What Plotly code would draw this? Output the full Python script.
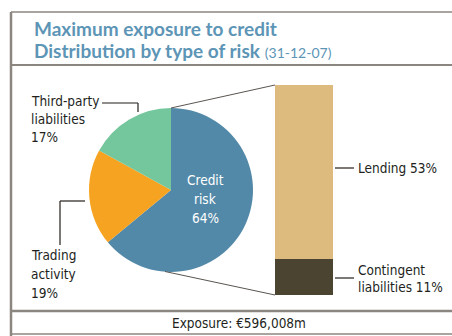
import plotly.graph_objects as go

# ---- data ----
pie_labels = ["Credit risk", "Trading activity", "Third-party liabilities"]
pie_values = [64, 19, 17]
pie_colors = ["#5389a8", "#f5a320", "#74c69c"]

bar_labels = ["Contingent liabilities", "Lending"]
bar_values = [11, 53]
bar_colors = ["#4a4430", "#ddbb7e"]

title1 = "Maximum exposure to credit"
title2 = "Distribution by type of risk"
title_date = "(31-12-07)"
footer = "Exposure: €596,008m"

W, H = 452, 336
FONT = "DejaVu Sans Condensed, sans-serif"
TXT = "#231f1c"
FRAME = "#8c8680"

def px(x):
    return x / W

def py(y):
    return 1 - y / H

# pie geometry (pixels)
cx, cy, r = 171, 190, 82
# bar geometry (pixels)
bx0, bx1, by0, by1 = 275, 333, 85, 295

fig = go.Figure()

fig.add_trace(go.Pie(
    labels=pie_labels, values=pie_values, sort=False, direction="clockwise",
    rotation=0, marker=dict(colors=pie_colors, line=dict(width=0)),
    textinfo="none", hoverinfo="label+percent", showlegend=False,
    domain=dict(x=[px(cx - r), px(cx + r)], y=[py(cy + r), py(cy - r)]),
))

for lab, val, col in zip(bar_labels, bar_values, bar_colors):
    fig.add_trace(go.Bar(
        x=[0], y=[val], name=lab, marker=dict(color=col, line=dict(width=0)),
        width=1, showlegend=False, xaxis="x", yaxis="y",
    ))

fig.update_layout(
    width=W, height=H, margin=dict(l=0, r=0, t=0, b=0),
    paper_bgcolor="white", plot_bgcolor="rgba(0,0,0,0)",
    barmode="stack",
    xaxis=dict(domain=[px(bx0), px(bx1)], range=[-0.5, 0.5], visible=False, fixedrange=True),
    yaxis=dict(domain=[py(by1), py(by0)], range=[0, sum(bar_values)], visible=False, fixedrange=True),
    font=dict(family=FONT, color=TXT, size=13.5),
)

shapes = []
def line(x0, y0, x1, y1, color=TXT, w=1.2, dash=None):
    d = dict(type="line", xref="paper", yref="paper",
             x0=px(x0), y0=py(y0), x1=px(x1), y1=py(y1),
             line=dict(color=color, width=w))
    if dash:
        d["line"]["dash"] = dash
    shapes.append(d)

# frame
line(11, 12, 11, 336, FRAME, 2.5)
line(11, 12, 452, 12, FRAME, 1.5)
line(11, 65, 452, 65, FRAME, 2)
line(11, 311, 452, 311, FRAME, 2.5)
line(11, 334, 452, 334, FRAME, 1.5)

# connectors pie -> bar
line(cx, cy - r, bx0, by0, "#5a5550", 1)
line(cx - 6, cy + r - 0.5, bx0, by1, "#5a5550", 1)

# leader lines
line(102, 103, 138, 103)
line(138, 103, 138, 112)
line(60, 201, 85, 201)
line(60, 201, 60, 245)
line(335, 168, 354, 168)
line(335, 278, 354, 278)

fig.update_layout(shapes=shapes)

ann = []
def text(x, y, s, size=13.5, color=TXT, xanchor="left", bold=False, family=FONT):
    if bold:
        s = "<b>" + s + "</b>"
    ann.append(dict(x=px(x), y=py(y), xref="paper", yref="paper", text=s,
                    showarrow=False, xanchor=xanchor, yanchor="middle",
                    font=dict(size=size, color=color, family=family)))

def lines(x, y0, step, items, **kw):
    for i, s in enumerate(items):
        text(x, y0 + i * step, s, **kw)

TCOL = "#5d95b6"
TFONT = "Lato, Open Sans, sans-serif"
text(32, 28, title1, 19, TCOL, bold=True, family=TFONT)
text(32, 50, "<b>" + title2 + "</b> <span style='font-size:14px'>" + title_date + "</span>",
     19, TCOL, family=TFONT)

lines(29, 101, 18, ["Third-party", "liabilities", "%d%%" % pie_values[2]])
lines(29, 255, 19, ["Trading", "activity", "%d%%" % pie_values[1]])
lines(205, 180, 19, ["Credit", "risk", "%d%%" % pie_values[0]], color="white", xanchor="center")
text(356, 168, "%s %d%%" % (bar_labels[1], bar_values[1]))
lines(356, 270, 17, ["Contingent", "liabilities %d%%" % bar_values[0]])
text(239, 323, footer, xanchor="center")

fig.update_layout(annotations=ann)

fig.write_html("out.html")
